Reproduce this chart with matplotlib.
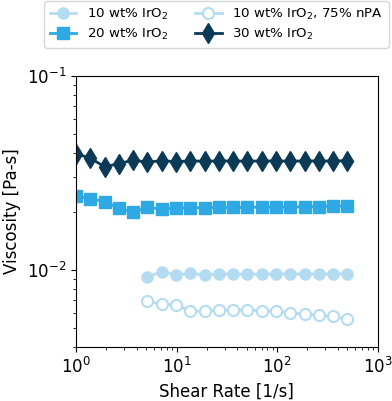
import numpy as np
import matplotlib
matplotlib.use("Agg")
import matplotlib.pyplot as plt

# shear rates [1/s]
shear = [1.00, 1.387, 1.924, 2.668, 3.700, 5.132, 7.117, 9.871, 13.69, 18.99,
         26.33, 36.52, 50.65, 70.25, 97.43, 135.1, 187.4, 259.9, 360.5, 500.0]

visc_30 = [0.0397, 0.0378, 0.0340, 0.0354, 0.0368, 0.0360, 0.0366, 0.0362, 0.0365, 0.0364,
           0.0365, 0.0365, 0.0364, 0.0365, 0.0365, 0.0364, 0.0365, 0.0365, 0.0365, 0.0366]
visc_20 = [0.0240, 0.0233, 0.0225, 0.0208, 0.0198, 0.0210, 0.0206, 0.0208, 0.0209, 0.0209,
           0.0210, 0.0210, 0.0210, 0.0211, 0.0211, 0.0211, 0.0212, 0.0212, 0.0213, 0.0214]
# 10 wt% series start at index 5
visc_10 = [0.00917, 0.00980, 0.00943, 0.00958, 0.00943, 0.00952, 0.00950, 0.00950,
           0.00950, 0.00950, 0.00950, 0.00952, 0.00952, 0.00952, 0.00953]
visc_10_npa = [0.00690, 0.00664, 0.00660, 0.00611, 0.00611, 0.00620, 0.00620, 0.00620,
               0.00615, 0.00610, 0.00600, 0.00590, 0.00583, 0.00574, 0.00555]

c_light = '#b3dcf3'
c_mid = '#2fa9e3'
c_dark = '#0b3a56'

fig = plt.figure(figsize=(3.92, 4.01), dpi=100)
ax = fig.add_axes([0.194, 0.135, 0.7695, 0.675])

l1, = ax.plot(shear[5:], visc_10, '-o', color=c_light, lw=2, ms=8,
              label='10 wt% IrO$_2$')
l2, = ax.plot(shear, visc_20, '-s', color=c_mid, lw=2, ms=8,
              label='20 wt% IrO$_2$')
l3, = ax.plot(shear[5:], visc_10_npa, '-o', color=c_light, lw=2, ms=8,
              mfc='white', mew=1.5, label='10 wt% IrO$_2$, 75% nPA')
l4, = ax.plot(shear, visc_30, '-d', color=c_dark, lw=2, ms=10,
              label='30 wt% IrO$_2$')

ax.set_xscale('log')
ax.set_yscale('log')
ax.set_xlim(1, 1000)
ax.set_ylim(0.004, 0.1)
ax.set_xlabel('Shear Rate [1/s]', fontsize=12)
ax.set_ylabel('Viscosity [Pa-s]', fontsize=12)
ax.tick_params(labelsize=12)

fig.legend(handles=[l1, l2, l3, l4], ncol=2, loc='upper right',
           bbox_to_anchor=(0.995, 1.0), borderaxespad=0.1, fontsize=9.6,
           frameon=True, handlelength=2, columnspacing=2.0, borderpad=0.4,
           labelspacing=0.4)

fig.savefig('out.png', dpi=100)
